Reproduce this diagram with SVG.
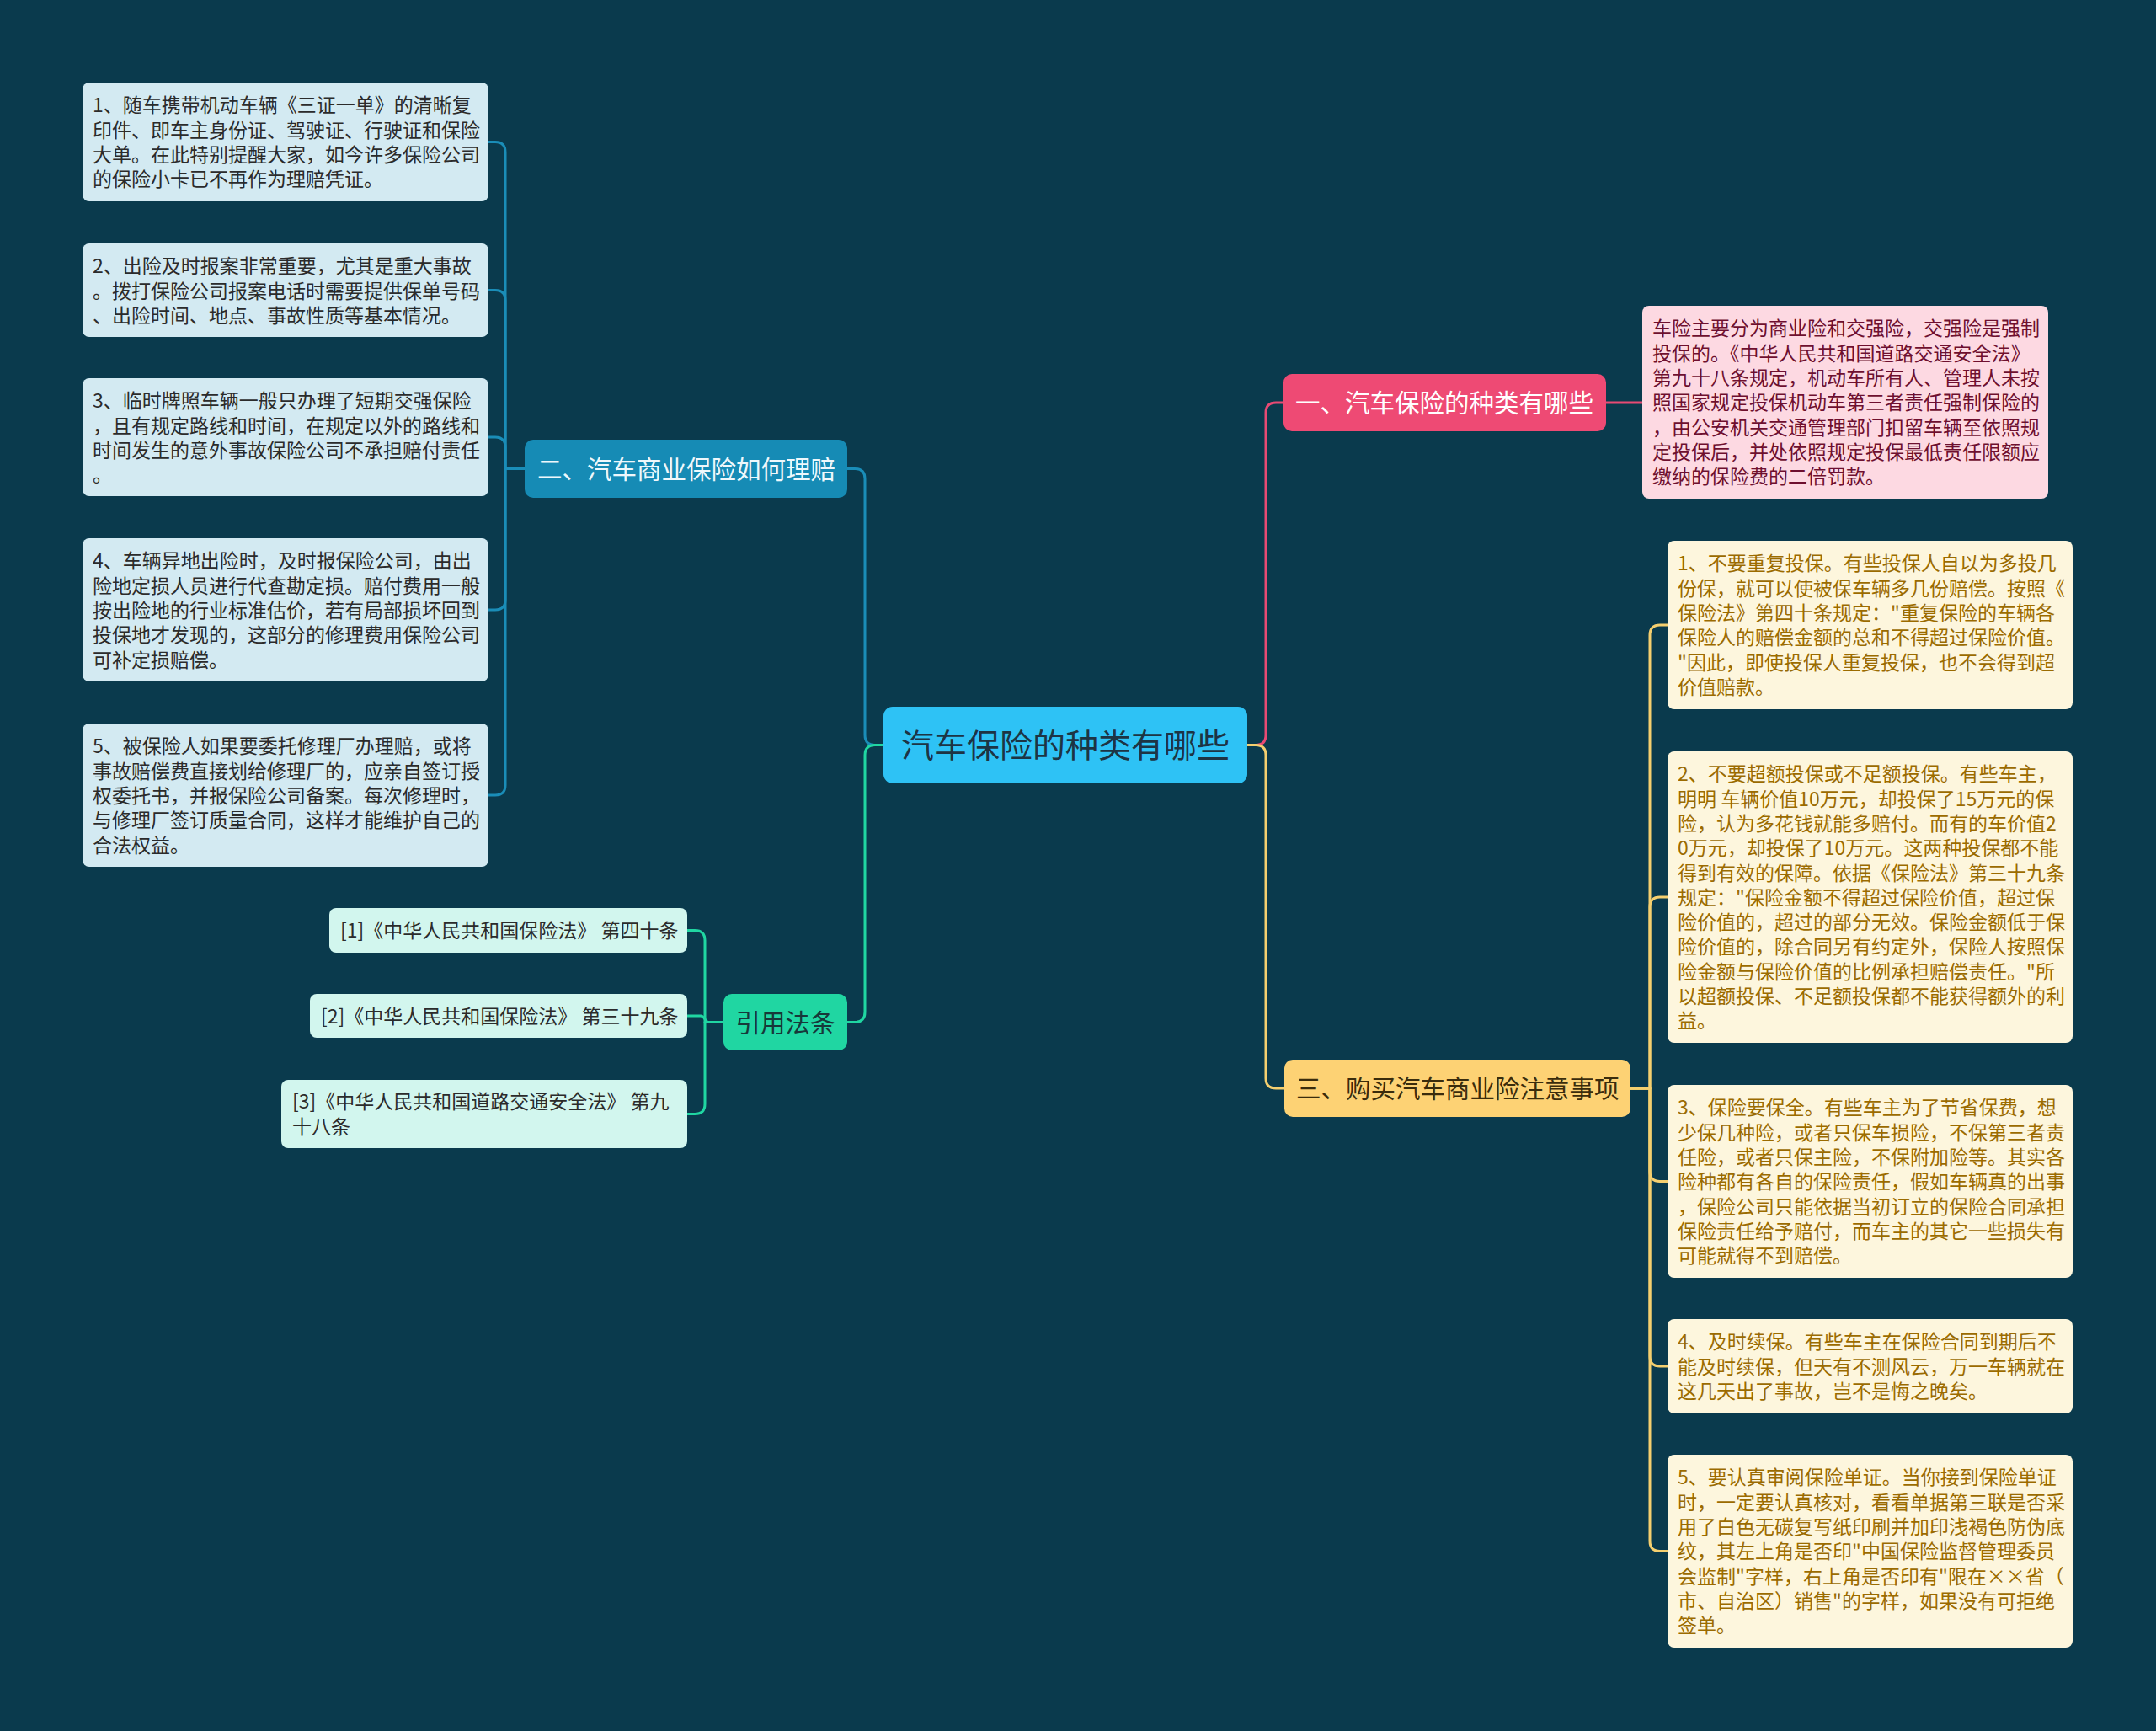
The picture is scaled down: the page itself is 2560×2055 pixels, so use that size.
<svg xmlns="http://www.w3.org/2000/svg" width="2560" height="2055" viewBox="0 0 2560 2055">
<style>
text{font-family:"Noto Sans CJK SC","Noto Sans",sans-serif;}
.c{fill:none;stroke-width:3;stroke-linecap:round;stroke-linejoin:round;}
.cb{stroke:#1a8db8;}.cg{stroke:#20d6a2;}.cp{stroke:#e84a74;}.cy{stroke:#f5cf6f;}
.t{font-size:23px;}
.lb{fill:#2b2b2b;}.pk{fill:#6e0f2f;}.yl{fill:#9b6b00;}
</style>
<rect width="2560" height="2055" fill="#0a3a4d"/>
<g id="connectors">
<path class="c cb" d="M 1049 884.5 H 1039 Q 1027 884.5 1027 872.5 V 568.5 Q 1027 556.5 1015 556.5 H 1006"/>
<path class="c cg" d="M 1049 884.5 H 1039 Q 1027 884.5 1027 896.5 V 1201.5 Q 1027 1213.5 1015 1213.5 H 1006"/>
<path class="c cp" d="M 1481 884.5 H 1491 Q 1503 884.5 1503 872.5 V 490 Q 1503 478 1515 478 H 1524"/>
<path class="c cy" d="M 1481 884.5 H 1491 Q 1503 884.5 1503 896.5 V 1280 Q 1503 1292 1515 1292 H 1525"/>
<path class="c cp" d="M 1907 478 H 1950"/>
<path class="c cb" d="M 623 556.5 H 600 V 180.5 Q 600 168.5 588 168.5 H 580"/>
<path class="c cb" d="M 623 556.5 H 600 V 356.5 Q 600 344.5 588 344.5 H 580"/>
<path class="c cb" d="M 623 556.5 H 600 V 531 Q 600 519 588 519 H 580"/>
<path class="c cb" d="M 623 556.5 H 600 V 712 Q 600 724 588 724 H 580"/>
<path class="c cb" d="M 623 556.5 H 600 V 932 Q 600 944 588 944 H 580"/>
<path class="c cy" d="M 1936 1292 H 1959 V 754 Q 1959 742 1971 742 H 1980"/>
<path class="c cy" d="M 1936 1292 H 1959 V 1077 Q 1959 1065 1971 1065 H 1980"/>
<path class="c cy" d="M 1936 1292 H 1959 V 1390.5 Q 1959 1402.5 1971 1402.5 H 1980"/>
<path class="c cy" d="M 1936 1292 H 1959 V 1610 Q 1959 1622 1971 1622 H 1980"/>
<path class="c cy" d="M 1936 1292 H 1959 V 1829.5 Q 1959 1841.5 1971 1841.5 H 1980"/>
<path class="c cg" d="M 859 1213.5 H 837 V 1116.5 Q 837 1104.5 825 1104.5 H 816"/>
<path class="c cg" d="M 859 1213.5 H 841 C 837 1213.5 837 1206 832 1206 H 816"/>
<path class="c cg" d="M 859 1213.5 H 837 V 1310.5 Q 837 1322.5 825 1322.5 H 816"/>
</g>
<g id="root">
<rect x="1049" y="839" width="432" height="91" rx="11" fill="#2ec2f5"/>
<text x="1265" y="899" font-size="39" text-anchor="middle" fill="#1d3444">汽车保险的种类有哪些</text>
</g>
<g id="b1">
<rect x="1524" y="444" width="383" height="68" rx="10" fill="#ee4a74"/>
<text x="1538" y="489.2" font-size="29.5" fill="#ffffff">一、汽车保险的种类有哪些</text>
</g>
<g id="b2">
<rect x="623" y="522" width="383" height="69" rx="10" fill="#168bb5"/>
<text x="638" y="567.7" font-size="29.5" fill="#eef8fc">二、汽车商业保险如何理赔</text>
</g>
<g id="b3">
<rect x="1525" y="1258" width="411" height="68" rx="10" fill="#fdd274"/>
<text x="1539" y="1303" font-size="29.5" fill="#3a2c0c">三、购买汽车商业险注意事项</text>
</g>
<g id="b4">
<rect x="859" y="1180" width="147" height="67" rx="10" fill="#20d6a2"/>
<text x="932.5" y="1224.7" font-size="29.5" text-anchor="middle" fill="#17383a">引用法条</text>
</g>
<g id="l1">
<rect x="98" y="98" width="482" height="141" rx="8" fill="#d3eaf2"/>
<text class="t lb" x="110" y="133.3"><tspan x="110">1、随车携带机动车辆《三证一单》的清晰复</tspan><tspan x="110" dy="29.3">印件、即车主身份证、驾驶证、行驶证和保险</tspan><tspan x="110" dy="29.3">大单。在此特别提醒大家，如今许多保险公司</tspan><tspan x="110" dy="29.3">的保险小卡已不再作为理赔凭证。</tspan></text>
</g>
<g id="l2">
<rect x="98" y="289" width="482" height="111" rx="8" fill="#d3eaf2"/>
<text class="t lb" x="110" y="324.3"><tspan x="110">2、出险及时报案非常重要，尤其是重大事故</tspan><tspan x="110" dy="29.3">。拨打保险公司报案电话时需要提供保单号码</tspan><tspan x="110" dy="29.3">、出险时间、地点、事故性质等基本情况。</tspan></text>
</g>
<g id="l3">
<rect x="98" y="449" width="482" height="140" rx="8" fill="#d3eaf2"/>
<text class="t lb" x="110" y="484.3"><tspan x="110">3、临时牌照车辆一般只办理了短期交强保险</tspan><tspan x="110" dy="29.3">，且有规定路线和时间，在规定以外的路线和</tspan><tspan x="110" dy="29.3">时间发生的意外事故保险公司不承担赔付责任</tspan><tspan x="110" dy="29.3">。</tspan></text>
</g>
<g id="l4">
<rect x="98" y="639" width="482" height="170" rx="8" fill="#d3eaf2"/>
<text class="t lb" x="110" y="674.3"><tspan x="110">4、车辆异地出险时，及时报保险公司，由出</tspan><tspan x="110" dy="29.3">险地定损人员进行代查勘定损。赔付费用一般</tspan><tspan x="110" dy="29.3">按出险地的行业标准估价，若有局部损坏回到</tspan><tspan x="110" dy="29.3">投保地才发现的，这部分的修理费用保险公司</tspan><tspan x="110" dy="29.3">可补定损赔偿。</tspan></text>
</g>
<g id="l5">
<rect x="98" y="859" width="482" height="170" rx="8" fill="#d3eaf2"/>
<text class="t lb" x="110" y="894.3"><tspan x="110">5、被保险人如果要委托修理厂办理赔，或将</tspan><tspan x="110" dy="29.3">事故赔偿费直接划给修理厂的，应亲自签订授</tspan><tspan x="110" dy="29.3">权委托书，并报保险公司备案。每次修理时，</tspan><tspan x="110" dy="29.3">与修理厂签订质量合同，这样才能维护自己的</tspan><tspan x="110" dy="29.3">合法权益。</tspan></text>
</g>
<g id="p1">
<rect x="1950" y="363" width="482" height="229" rx="8" fill="#fdd9e2"/>
<text class="t pk" x="1962" y="398.3"><tspan x="1962">车险主要分为商业险和交强险，交强险是强制</tspan><tspan x="1962" dy="29.3">投保的。《中华人民共和国道路交通安全法》</tspan><tspan x="1962" dy="29.3">第九十八条规定，机动车所有人、管理人未按</tspan><tspan x="1962" dy="29.3">照国家规定投保机动车第三者责任强制保险的</tspan><tspan x="1962" dy="29.3">，由公安机关交通管理部门扣留车辆至依照规</tspan><tspan x="1962" dy="29.3">定投保后，并处依照规定投保最低责任限额应</tspan><tspan x="1962" dy="29.3">缴纳的保险费的二倍罚款。</tspan></text>
</g>
<g id="y1">
<rect x="1980" y="642" width="481" height="200" rx="8" fill="#fdf6dd"/>
<text class="t yl" x="1992" y="677.3"><tspan x="1992">1、不要重复投保。有些投保人自以为多投几</tspan><tspan x="1992" dy="29.3">份保，就可以使被保车辆多几份赔偿。按照《</tspan><tspan x="1992" dy="29.3">保险法》第四十条规定："重复保险的车辆各</tspan><tspan x="1992" dy="29.3">保险人的赔偿金额的总和不得超过保险价值。</tspan><tspan x="1992" dy="29.3">"因此，即使投保人重复投保，也不会得到超</tspan><tspan x="1992" dy="29.3">价值赔款。</tspan></text>
</g>
<g id="y2">
<rect x="1980" y="892" width="481" height="346" rx="8" fill="#fdf6dd"/>
<text class="t yl" x="1992" y="927.3"><tspan x="1992">2、不要超额投保或不足额投保。有些车主，</tspan><tspan x="1992" dy="29.3">明明 车辆价值10万元，却投保了15万元的保</tspan><tspan x="1992" dy="29.3">险，认为多花钱就能多赔付。而有的车价值2</tspan><tspan x="1992" dy="29.3">0万元，却投保了10万元。这两种投保都不能</tspan><tspan x="1992" dy="29.3">得到有效的保障。依据《保险法》第三十九条</tspan><tspan x="1992" dy="29.3">规定："保险金额不得超过保险价值，超过保</tspan><tspan x="1992" dy="29.3">险价值的，超过的部分无效。保险金额低于保</tspan><tspan x="1992" dy="29.3">险价值的，除合同另有约定外，保险人按照保</tspan><tspan x="1992" dy="29.3">险金额与保险价值的比例承担赔偿责任。"所</tspan><tspan x="1992" dy="29.3">以超额投保、不足额投保都不能获得额外的利</tspan><tspan x="1992" dy="29.3">益。</tspan></text>
</g>
<g id="y3">
<rect x="1980" y="1288" width="481" height="229" rx="8" fill="#fdf6dd"/>
<text class="t yl" x="1992" y="1323.3"><tspan x="1992">3、保险要保全。有些车主为了节省保费，想</tspan><tspan x="1992" dy="29.3">少保几种险，或者只保车损险，不保第三者责</tspan><tspan x="1992" dy="29.3">任险，或者只保主险，不保附加险等。其实各</tspan><tspan x="1992" dy="29.3">险种都有各自的保险责任，假如车辆真的出事</tspan><tspan x="1992" dy="29.3">，保险公司只能依据当初订立的保险合同承担</tspan><tspan x="1992" dy="29.3">保险责任给予赔付，而车主的其它一些损失有</tspan><tspan x="1992" dy="29.3">可能就得不到赔偿。</tspan></text>
</g>
<g id="y4">
<rect x="1980" y="1566" width="481" height="112" rx="8" fill="#fdf6dd"/>
<text class="t yl" x="1992" y="1601.3"><tspan x="1992">4、及时续保。有些车主在保险合同到期后不</tspan><tspan x="1992" dy="29.3">能及时续保，但天有不测风云，万一车辆就在</tspan><tspan x="1992" dy="29.3">这几天出了事故，岂不是悔之晚矣。</tspan></text>
</g>
<g id="y5">
<rect x="1980" y="1727" width="481" height="229" rx="8" fill="#fdf6dd"/>
<text class="t yl" x="1992" y="1762.3"><tspan x="1992">5、要认真审阅保险单证。当你接到保险单证</tspan><tspan x="1992" dy="29.3">时，一定要认真核对，看看单据第三联是否采</tspan><tspan x="1992" dy="29.3">用了白色无碳复写纸印刷并加印浅褐色防伪底</tspan><tspan x="1992" dy="29.3">纹，其左上角是否印"中国保险监督管理委员</tspan><tspan x="1992" dy="29.3">会监制"字样，右上角是否印有"限在××省（</tspan><tspan x="1992" dy="29.3">市、自治区）销售"的字样，如果没有可拒绝</tspan><tspan x="1992" dy="29.3">签单。</tspan></text>
</g>
<g id="c1">
<rect x="391" y="1078" width="425" height="53" rx="8" fill="#d2f6ee"/>
<text class="t lb" x="404" y="1113.2">[1]《中华人民共和国保险法》 第四十条</text>
</g>
<g id="c2">
<rect x="368" y="1180" width="448" height="52" rx="8" fill="#d2f6ee"/>
<text class="t lb" x="381" y="1214.7">[2]《中华人民共和国保险法》 第三十九条</text>
</g>
<g id="c3">
<rect x="334" y="1282" width="482" height="81" rx="8" fill="#d2f6ee"/>
<text class="t lb" x="347" y="1316.4"><tspan x="347">[3]《中华人民共和国道路交通安全法》 第九</tspan><tspan x="347" dy="29.3">十八条</tspan></text>
</g>
</svg>
